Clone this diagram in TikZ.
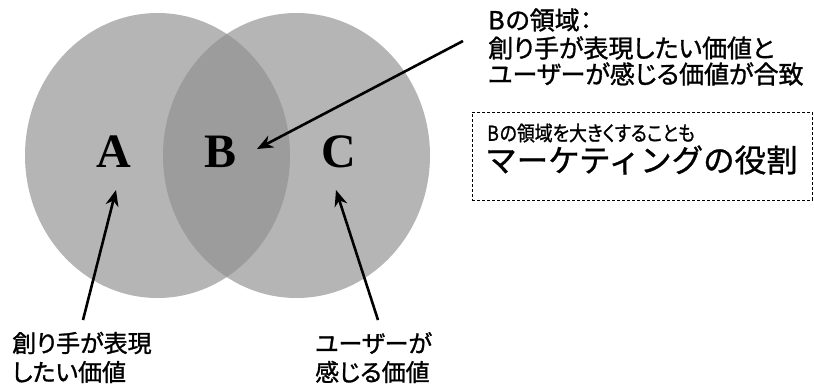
\documentclass[tikz,border=0pt]{standalone}
\usepackage{fontspec}
\usepackage{graphicx}
\newfontfamily\jp[RawFeature={+palt}, FakeBold=1.2]{Noto Sans CJK JP}
\newfontfamily\jpm[FakeBold=1]{Noto Sans CJK JP}
\newfontfamily\ser{Liberation Serif}
\usetikzlibrary{arrows.meta}
\definecolor{circ}{HTML}{B5B5B5}
\definecolor{lens}{HTML}{9C9C9C}
\tikzset{
  letter/.style={font=\ser\bfseries\fontsize{48}{50}\selectfont, inner sep=0pt},
  jtext/.style={font=\jp\fontsize{24}{27}\selectfont, align=left, anchor=west, inner sep=0pt},
  toptext/.style={jtext, font=\jp\fontsize{25}{27}\selectfont},
  arr/.style={line width=2.6pt, -{Stealth[length=16pt,width=13pt,inset=5pt]}},
  dashbox/.style={draw, dashed, line width=0.8pt, dash pattern=on 3pt off 2pt}
}
\begin{document}
\begin{tikzpicture}[x=1pt,y=-1pt]
\useasboundingbox (0,0) rectangle (814,389);
% circles
\fill[circ] (157.5,155.5) ellipse [x radius=132.5, y radius=142.5];
\fill[circ] (296.5,155.5) ellipse [x radius=133.5, y radius=142.5];
\begin{scope}
  \clip (157.5,155.5) ellipse [x radius=132.5, y radius=142.5];
  \fill[lens] (296.5,155.5) ellipse [x radius=133.5, y radius=142.5];
\end{scope}
% letters
\node[letter] (A) at (114,152) {A};
\node[letter] (B) at (221,152) {B};
\node[letter] (C) at (339,152) {C};
% top-right text
\node[toptext] (t1) at (488,20) {B\kern1pt の領域：};
\node[toptext] (t2) at (488,48) {創り手が表現したい価値と};
\node[toptext] (t3) at (488,74) {ユーザーが感じる価値が合致};
% dashed box
\node[dashbox, minimum width=340pt, minimum height=88pt, anchor=north west, inner sep=0pt] (box) at (472,112) {};
\node[jtext, font=\jp\fontsize{20.5}{22}\selectfont] (b1) at (487,133) {\scalebox{0.87}[1]{B\kern1pt の領域を大きくすることも}};
\node[jtext, font=\jpm\fontsize{31.5}{34}\selectfont] (b2) at (485,160) {マーケティングの役割};
% bottom texts
\node[jtext] (l1) at (12,343) {創り手が表現};
\node[jtext] (l2) at (12,372) {したい価値};
\node[jtext] (r1) at (315,343) {ユーザーが};
\node[jtext] (r2) at (315,372) {感じる価値};
% arrow coordinates
\coordinate (tailB) at (463,41);
\coordinate (headB) at (257,149);
\coordinate (tailA) at (83,320);
\coordinate (headA) at (116,190);
\coordinate (tailC) at (378,320);
\coordinate (headC) at (336,190);
\draw[arr] (tailB) -- (headB);
\draw[arr] (tailA) -- (headA);
\draw[arr] (tailC) -- (headC);
\end{tikzpicture}
\end{document}
